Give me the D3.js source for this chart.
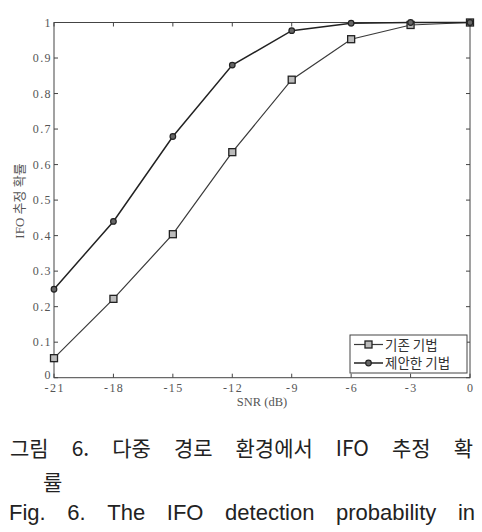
<!DOCTYPE html>
<html>
<head>
<meta charset="utf-8">
<script src="https://cdn.jsdelivr.net/npm/d3@7"></script>
<style>
  body { margin: 0; background: #fff; }
  svg { display: block; }
</style>
</head>
<body>
<svg width="482" height="532"></svg>
<script>
// data
var snr = [-21, -18, -15, -12, -9, -6, -3, 0];
var conventional = [0.055, 0.222, 0.404, 0.635, 0.839, 0.953, 0.993, 1.0];
var proposed = [0.249, 0.440, 0.679, 0.880, 0.977, 0.998, 1.0, 1.0];
var xTicks = [-21, -18, -15, -12, -9, -6, -3, 0];
var yTicks = [0, 0.1, 0.2, 0.3, 0.4, 0.5, 0.6, 0.7, 0.8, 0.9, 1];
var legendLabels = ["기존 기법", "제안한 기법"];
var captionKo = ["그림", "6.", "다중", "경로", "환경에서", "IFO", "추정", "확"];
var captionKo2 = "률";
var captionEn = ["Fig.", "6.", "The", "IFO", "detection", "probability", "in"];

var svg = d3.select("svg");
var plotL = 54, plotR = 470, plotT = 22.5, plotB = 377.7;

var x = d3.scaleLinear().domain([-21, 0]).range([plotL, plotR]);
var y = d3.scaleLinear().domain([0, 1]).range([plotB, plotT]);

var axisColor = "#444", labelColor = "#555";
var serif = "'Liberation Serif', 'DejaVu Serif', serif";

// frame
svg.append("rect")
  .attr("x", plotL).attr("y", plotT)
  .attr("width", plotR - plotL).attr("height", plotB - plotT)
  .attr("fill", "none").attr("stroke", axisColor).attr("stroke-width", 1);

// ticks, inward on all sides
var g = svg.append("g").attr("stroke", axisColor).attr("stroke-width", 1);
xTicks.forEach(function (t) {
  g.append("line").attr("x1", x(t)).attr("x2", x(t)).attr("y1", plotB).attr("y2", plotB - 4);
  g.append("line").attr("x1", x(t)).attr("x2", x(t)).attr("y1", plotT).attr("y2", plotT + 4);
});
yTicks.forEach(function (t) {
  g.append("line").attr("x1", plotL).attr("x2", plotL + 4).attr("y1", y(t)).attr("y2", y(t));
  g.append("line").attr("x1", plotR).attr("x2", plotR - 4).attr("y1", y(t)).attr("y2", y(t));
});

// tick labels
svg.append("g").selectAll("text")
  .data(xTicks).enter().append("text")
  .attr("x", function (d) { return x(d) + 0.7; })
  .attr("y", 392)
  .attr("text-anchor", "middle")
  .attr("letter-spacing", 1.4)
  .attr("font-family", serif).attr("font-size", 12).attr("fill", labelColor)
  .text(function (d) { return d; });

svg.append("g").selectAll("text")
  .data(yTicks).enter().append("text")
  .attr("x", 52)
  .attr("y", function (d) { return d === 0 ? y(d) + 1 : y(d) + 4; })
  .attr("text-anchor", "end")
  .attr("letter-spacing", 1.4)
  .attr("font-family", serif).attr("font-size", 12).attr("fill", labelColor)
  .text(function (d) { return d; });

// axis titles
svg.append("text")
  .attr("x", 262).attr("y", 406)
  .attr("text-anchor", "middle")
  .attr("font-family", serif).attr("font-size", 12.5).attr("fill", labelColor)
  .text("SNR (dB)");

svg.append("text")
  .attr("transform", "translate(24,201) rotate(-90)")
  .attr("text-anchor", "middle")
  .attr("font-family", serif + ", 'Noto Sans CJK KR'").attr("font-size", 13).attr("fill", labelColor)
  .text("IFO 추정 확률");

// series
var line = d3.line()
  .x(function (d) { return x(d[0]); })
  .y(function (d) { return y(d[1]); });

var convPts = d3.zip(snr, conventional);
var propPts = d3.zip(snr, proposed);

svg.append("path").datum(convPts)
  .attr("d", line).attr("fill", "none")
  .attr("stroke", "#3a3a3a").attr("stroke-width", 1.2);
svg.append("path").datum(propPts)
  .attr("d", line).attr("fill", "none")
  .attr("stroke", "#222").attr("stroke-width", 1.5);

function square(sel, cx, cy) {
  sel.append("rect").attr("x", cx - 3.5).attr("y", cy - 3.5)
    .attr("width", 7).attr("height", 7)
    .attr("fill", "#bbb").attr("stroke", "#222").attr("stroke-width", 1.3);
}
function circle(sel, cx, cy) {
  sel.append("circle").attr("cx", cx).attr("cy", cy).attr("r", 2.8)
    .attr("fill", "#666").attr("stroke", "#222").attr("stroke-width", 1.2);
}

convPts.forEach(function (p) { square(svg, x(p[0]), y(p[1])); });
propPts.forEach(function (p) { circle(svg, x(p[0]), y(p[1])); });

// legend
var leg = svg.append("g");
leg.append("rect")
  .attr("x", 350).attr("y", 335).attr("width", 117).attr("height", 38)
  .attr("fill", "#fff").attr("stroke", axisColor).attr("stroke-width", 1);
legendLabels.forEach(function (lab, i) {
  var ly = 344.5 + i * 18.5;
  leg.append("line").attr("x1", 354).attr("x2", 383).attr("y1", ly).attr("y2", ly)
    .attr("stroke", i === 0 ? "#3a3a3a" : "#222").attr("stroke-width", i === 0 ? 1.2 : 1.5);
  if (i === 0) square(leg, 368.5, ly); else circle(leg, 368.5, ly);
  leg.append("text")
    .attr("x", 385).attr("y", ly + 5)
    .attr("font-family", "'Noto Sans CJK KR', sans-serif").attr("font-size", 13.5)
    .attr("fill", "#333")
    .text(lab);
});

// caption, justified word by word
function justify(words, xa, xb, baseline, font, size) {
  var texts = words.map(function (w) {
    return svg.append("text")
      .attr("y", baseline)
      .attr("font-family", font).attr("font-size", size)
      .attr("fill", "#222")
      .text(w);
  });
  var widths = texts.map(function (t) { return t.node().getComputedTextLength(); });
  var gap = (xb - xa - d3.sum(widths)) / (words.length - 1);
  var cx = xa;
  texts.forEach(function (t, i) {
    t.attr("x", cx);
    cx += widths[i] + gap;
  });
}

var capFont = "'Noto Sans CJK KR', 'Liberation Sans', sans-serif";
justify(captionKo, 10, 473, 456, capFont, 21);
svg.append("text")
  .attr("x", 43).attr("y", 490)
  .attr("font-family", capFont).attr("font-size", 21).attr("fill", "#222")
  .text(captionKo2);
justify(captionEn, 9, 475, 520, "'Liberation Sans', Arial, sans-serif", 22);
</script>
</body>
</html>
